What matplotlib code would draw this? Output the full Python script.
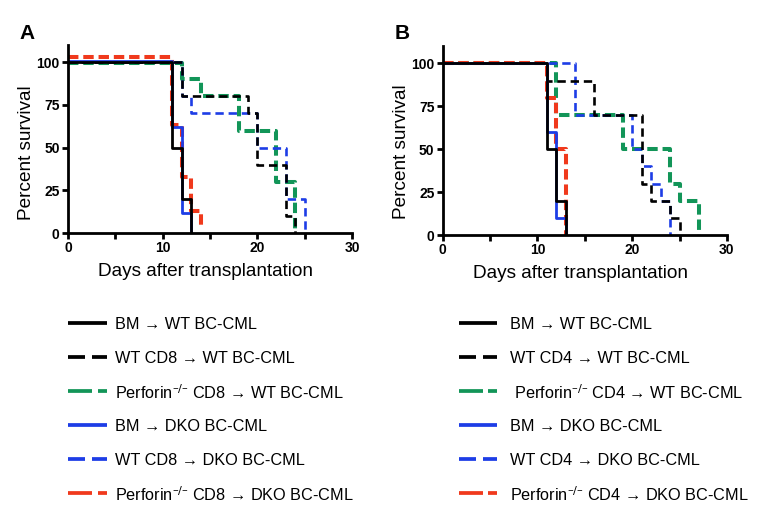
import matplotlib
matplotlib.use('Agg')
import matplotlib.pyplot as plt
from matplotlib.lines import Line2D

plt.rcParams['font.family'] = ['Liberation Sans', 'DejaVu Sans']
plt.rcParams['lines.scale_dashes'] = False

# Panel A: survival steps (days, percent survival)
a_bm_wt_days = [0, 11, 12, 13]
a_bm_wt_surv = [100, 50, 20, 0]
a_cd8_wt_days = [0, 12, 19, 20, 23, 24]
a_cd8_wt_surv = [100, 80, 70, 40, 10, 0]
a_perf_wt_days = [0, 12, 14, 18, 22, 24]
a_perf_wt_surv = [99.5, 90, 80, 60, 30, 0]
a_bm_dko_days = [0, 11, 12, 13]
a_bm_dko_surv = [101, 62, 12, 0]
a_cd8_dko_days = [0, 12, 13, 20, 23, 25]
a_cd8_dko_surv = [100, 80, 70, 50, 20, 0]
a_perf_dko_days = [0, 11, 12, 13, 14]
a_perf_dko_surv = [103, 63, 33, 13, 3]

# Panel B
b_bm_wt_days = [0, 11, 12, 13]
b_bm_wt_surv = [100, 50, 20, 0]
b_cd4_wt_days = [0, 11, 16, 21, 22, 24, 25]
b_cd4_wt_surv = [100, 90, 70, 30, 20, 10, 0]
b_perf_wt_days = [0, 12, 19, 24, 25, 27]
b_perf_wt_surv = [100, 70, 50, 30, 20, 0]
b_bm_dko_days = [0, 11, 12, 13]
b_bm_dko_surv = [100, 60, 10, 0]
b_cd4_dko_days = [0, 14, 20, 21, 22, 23, 24]
b_cd4_dko_surv = [100, 70, 50, 40, 30, 20, 0]
b_perf_dko_days = [0, 11, 12, 13]
b_perf_dko_surv = [100, 80, 50, 0]

labels_a = ['BM \u2192 WT BC-CML',
            'WT CD8 \u2192 WT BC-CML',
            'Perforin$^{\u2013/\u2013}$ CD8 \u2192 WT BC-CML',
            'BM \u2192 DKO BC-CML',
            'WT CD8 \u2192 DKO BC-CML',
            'Perforin$^{\u2013/\u2013}$ CD8 \u2192 DKO BC-CML']
labels_b = ['BM \u2192 WT BC-CML',
            'WT CD4 \u2192 WT BC-CML',
            ' Perforin$^{\u2013/\u2013}$ CD4 \u2192 WT BC-CML',
            'BM \u2192 DKO BC-CML',
            'WT CD4 \u2192 DKO BC-CML',
            'Perforin$^{\u2013/\u2013}$ CD4 \u2192 DKO BC-CML']

BLACK = '#000000'
GREEN = '#129558'
BLUE = '#1d3de6'
RED = '#f0391c'

# (color, dash pattern in points or None, linewidth) in legend order
styles = [
    (BLACK, None, 2.0),
    (BLACK, (6, 3.5), 1.9),
    (GREEN, (7.5, 3.5), 2.9),
    (BLUE, None, 2.0),
    (BLUE, (6, 3.5), 1.9),
    (RED, (7.5, 3.5), 2.9),
]
# legend handle pieces, as fractions of the handle length
legend_pieces = [
    [(0, 1)],
    [(0, 0.44), (0.62, 1)],
    [(0, 0.62), (0.77, 1)],
    [(0, 1)],
    [(0, 0.44), (0.62, 1)],
    [(0, 0.62), (0.77, 1)],
]

fig = plt.figure(figsize=(7.66, 5.19), dpi=100)
W, H = 766, 519


def draw_panel(rect, series, labels, letter, line_x, text_x, ylab_y):
    ax = fig.add_axes(rect)
    # draw order: green, blue dashed, black dashed, red, blue solid, black solid
    for i in [2, 4, 1, 5, 3, 0]:
        days, surv = series[i]
        c, d, lw = styles[i]
        ln, = ax.step(days, surv, where='post', color=c, lw=lw,
                      solid_capstyle='butt', dash_capstyle='butt')
        if d is not None:
            ln.set_dashes(d)
    ax.set_xlim(0, 30)
    ax.set_ylim(0, 110)
    ax.set_xticks([0, 10, 20, 30])
    ax.set_xticks([5, 15, 25], minor=True)
    ax.set_yticks([0, 25, 50, 75, 100])
    for s in ['top', 'right']:
        ax.spines[s].set_visible(False)
    for s in ['left', 'bottom']:
        ax.spines[s].set_linewidth(2.0)
    ax.tick_params(which='both', direction='out', width=2.0, length=4,
                   labelsize=10, pad=2)
    for t in ax.get_xticklabels() + ax.get_yticklabels():
        t.set_fontweight('bold')
    ax.set_xlabel('Days after transplantation', fontsize=13.7)
    ax.set_ylabel('Percent survival', fontsize=13.7)
    ax.xaxis.set_label_coords(0.485, -0.16)
    ax.yaxis.set_label_coords(-0.115, ylab_y)
    ax.text(-0.17, 1.115, letter, transform=ax.transAxes, fontsize=15,
            fontweight='bold', va='top', ha='left')

    # legend below the panel
    rows_y = [323, 357, 391, 425, 459, 493]
    x0, x1 = line_x
    for i, lab in enumerate(labels):
        c = styles[i][0]
        yf = 1 - rows_y[i] / H
        for a, b in legend_pieces[i]:
            xa = (x0 + a * (x1 - x0)) / W
            xb = (x0 + b * (x1 - x0)) / W
            fig.add_artist(Line2D([xa, xb], [yf, yf], color=c, lw=2.7,
                                  solid_capstyle='butt',
                                  transform=fig.transFigure))
        fig.text(text_x / W, yf, lab, fontsize=11.7, va='center_baseline', ha='left')
    return ax


series_a = [(a_bm_wt_days, a_bm_wt_surv), (a_cd8_wt_days, a_cd8_wt_surv),
            (a_perf_wt_days, a_perf_wt_surv), (a_bm_dko_days, a_bm_dko_surv),
            (a_cd8_dko_days, a_cd8_dko_surv), (a_perf_dko_days, a_perf_dko_surv)]
series_b = [(b_bm_wt_days, b_bm_wt_surv), (b_cd4_wt_days, b_cd4_wt_surv),
            (b_perf_wt_days, b_perf_wt_surv), (b_bm_dko_days, b_bm_dko_surv),
            (b_cd4_dko_days, b_cd4_dko_surv), (b_perf_dko_days, b_perf_dko_surv)]

draw_panel([0.0888, 0.551, 0.371, 0.362], series_a, labels_a, 'A', (68, 107), 115, 0.43)
draw_panel([0.578, 0.547, 0.371, 0.364], series_b, labels_b, 'B', (459, 497), 510, 0.44)

fig.savefig('out.png', dpi=100)
